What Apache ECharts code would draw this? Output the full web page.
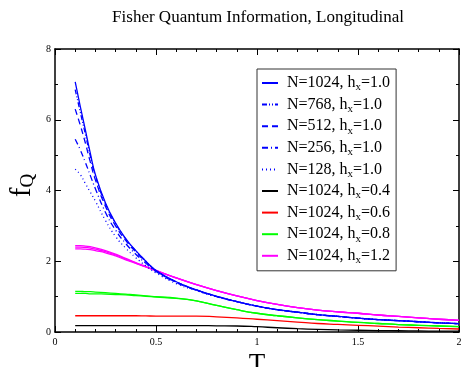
<!DOCTYPE html>
<html>
<head>
<meta charset="utf-8">
<script src="https://cdn.jsdelivr.net/npm/echarts@6/dist/echarts.min.js"></script>
<style>
  html, body { margin: 0; padding: 0; background: #fff; }
  #chart { width: 461px; height: 367px; }
</style>
</head>
<body>
<div id="chart"></div>
<script>
// Temperature grid shared by every curve
const temperature = [0.1, 0.125, 0.15, 0.175, 0.2, 0.25, 0.3, 0.35, 0.4, 0.45, 0.5, 0.6, 0.7, 0.8, 0.9, 1.0, 1.1, 1.2, 1.3, 1.4, 1.5, 1.6, 1.7, 1.8, 1.9, 2.0];

// Fisher information f_Q, h_x = 1.0, several chain lengths
const fq_N1024_h10 = [7.07, 6.38, 5.72, 5.05, 4.45, 3.65, 3.08, 2.64, 2.30, 2.00, 1.74, 1.42, 1.19, 1.01, 0.86, 0.73, 0.63, 0.56, 0.49, 0.44, 0.39, 0.35, 0.32, 0.29, 0.26, 0.235];
const fq_N768_h10  = [6.85, 6.22, 5.60, 4.97, 4.40, 3.62, 3.06, 2.63, 2.29, 2.00, 1.74, 1.42, 1.19, 1.01, 0.86, 0.73, 0.63, 0.56, 0.49, 0.44, 0.39, 0.35, 0.32, 0.29, 0.26, 0.235];
const fq_N512_h10  = [6.30, 5.85, 5.35, 4.80, 4.30, 3.55, 3.00, 2.59, 2.26, 1.98, 1.73, 1.41, 1.19, 1.01, 0.86, 0.73, 0.63, 0.56, 0.49, 0.44, 0.39, 0.35, 0.32, 0.29, 0.26, 0.235];
const fq_N256_h10  = [5.45, 5.15, 4.80, 4.42, 4.05, 3.38, 2.88, 2.50, 2.20, 1.94, 1.71, 1.40, 1.18, 1.00, 0.86, 0.73, 0.63, 0.56, 0.49, 0.44, 0.39, 0.35, 0.32, 0.29, 0.26, 0.235];
const fq_N128_h10  = [4.60, 4.45, 4.20, 3.95, 3.70, 3.15, 2.70, 2.37, 2.10, 1.87, 1.67, 1.37, 1.17, 1.00, 0.86, 0.73, 0.63, 0.56, 0.49, 0.44, 0.39, 0.35, 0.32, 0.29, 0.26, 0.235];

// N = 1024 at other transverse fields
const fq_N1024_h04 = [0.18, 0.18, 0.18, 0.18, 0.18, 0.18, 0.18, 0.18, 0.18, 0.18, 0.18, 0.18, 0.18, 0.175, 0.17, 0.15, 0.12, 0.095, 0.075, 0.06, 0.05, 0.04, 0.035, 0.03, 0.025, 0.022];
const fq_N1024_h06 = [0.46, 0.46, 0.46, 0.46, 0.46, 0.46, 0.46, 0.46, 0.46, 0.455, 0.45, 0.45, 0.45, 0.43, 0.40, 0.36, 0.32, 0.28, 0.24, 0.215, 0.19, 0.165, 0.14, 0.12, 0.10, 0.085];
const fq_N1024_h08 = [1.15, 1.15, 1.14, 1.14, 1.13, 1.11, 1.09, 1.07, 1.05, 1.02, 1.00, 0.96, 0.88, 0.75, 0.63, 0.53, 0.46, 0.40, 0.35, 0.31, 0.27, 0.24, 0.21, 0.19, 0.17, 0.15];
const fq_N1024_h12 = [2.44, 2.44, 2.43, 2.41, 2.38, 2.30, 2.20, 2.08, 1.96, 1.85, 1.74, 1.53, 1.34, 1.17, 1.02, 0.89, 0.78, 0.69, 0.62, 0.57, 0.53, 0.48, 0.44, 0.40, 0.36, 0.33];

// Smaller chains at h_x = 0.8 and 1.2 (drawn in the same colour, no legend entry)
const fq_small_h08   = [1.09, 1.09, 1.09, 1.08, 1.08, 1.07, 1.06, 1.05, 1.03, 1.01, 0.99, 0.95, 0.88, 0.75, 0.63, 0.53, 0.46, 0.40, 0.35, 0.31, 0.27, 0.24, 0.21, 0.19, 0.17, 0.15];
const fq_small_h12_a = [2.40, 2.40, 2.39, 2.37, 2.34, 2.27, 2.18, 2.06, 1.95, 1.84, 1.74, 1.53, 1.34, 1.17, 1.02, 0.89, 0.78, 0.69, 0.62, 0.57, 0.53, 0.48, 0.44, 0.40, 0.36, 0.33];
const fq_small_h12_b = [2.35, 2.35, 2.34, 2.33, 2.30, 2.24, 2.15, 2.04, 1.94, 1.84, 1.73, 1.53, 1.34, 1.17, 1.02, 0.89, 0.78, 0.69, 0.62, 0.57, 0.53, 0.48, 0.44, 0.40, 0.36, 0.33];

// Axis ticks
const xTicks = [0, 0.5, 1, 1.5, 2];
const yTicks = [0, 2, 4, 6, 8];

// Legend entries: [chain length, field]
const legendEntries = [
  ['1024', '1.0'], ['768', '1.0'], ['512', '1.0'], ['256', '1.0'], ['128', '1.0'],
  ['1024', '0.4'], ['1024', '0.6'], ['1024', '0.8'], ['1024', '1.2']
];

const FONT = 'Liberation Serif';
const pair = (ys) => temperature.map((t, i) => [t, ys[i]]);
const keyOf = (e) => 'N=' + e[0] + ', h_x=' + e[1];

function curve(name, ys, color, dash) {
  return {
    name: name,
    type: 'line',
    data: pair(ys),
    smooth: true,
    symbol: 'none',
    showSymbol: false,
    silent: true,
    lineStyle: { color: color, width: 1.3, type: dash || 'solid' },
    itemStyle: { color: color }
  };
}

const series = [
  curve(keyOf(legendEntries[8]), fq_N1024_h12, '#ff00ff'),
  curve('h12a', fq_small_h12_a, '#ff00ff'),
  curve('h12b', fq_small_h12_b, '#ff00ff'),
  curve(keyOf(legendEntries[7]), fq_N1024_h08, '#00ff00'),
  curve('h08a', fq_small_h08, '#00ff00'),
  curve(keyOf(legendEntries[6]), fq_N1024_h06, '#ff0000'),
  curve(keyOf(legendEntries[5]), fq_N1024_h04, '#000000'),
  curve(keyOf(legendEntries[4]), fq_N128_h10, '#0000ff', [1, 3]),
  curve(keyOf(legendEntries[3]), fq_N256_h10, '#0000ff', [6, 3, 1, 3]),
  curve(keyOf(legendEntries[2]), fq_N512_h10, '#0000ff', [6, 4]),
  curve(keyOf(legendEntries[1]), fq_N768_h10, '#0000ff', [5, 2, 1, 2, 1, 2]),
  curve(keyOf(legendEntries[0]), fq_N1024_h10, '#0000ff')
];

const tickLine = { color: '#000', width: 1 };
function xAxis(pos, labels) {
  return {
    type: 'value', position: pos, min: xTicks[0], max: xTicks[xTicks.length - 1],
    interval: xTicks[1] - xTicks[0],
    axisLine: { show: true, onZero: false, lineStyle: { color: '#000', width: 1.5 } },
    axisTick: { show: true, inside: true, length: 6, lineStyle: tickLine },
    minorTick: { show: true, splitNumber: 5, length: 3, lineStyle: tickLine },
    splitLine: { show: false },
    axisLabel: { show: labels, fontFamily: FONT, fontSize: 10, lineHeight: 10, color: '#000', margin: 5 },
    name: labels ? 'T' : '', nameLocation: 'middle', nameGap: 4,
    nameTextStyle: { fontFamily: FONT, fontSize: 27, lineHeight: 14, color: '#000' }
  };
}
function yAxis(pos, labels) {
  return {
    type: 'value', position: pos, min: yTicks[0], max: yTicks[yTicks.length - 1],
    interval: yTicks[1] - yTicks[0],
    axisLine: { show: true, onZero: false, lineStyle: { color: '#000', width: 1.5 } },
    axisTick: { show: true, inside: true, length: 6, lineStyle: tickLine },
    minorTick: { show: true, splitNumber: 2, length: 3, lineStyle: tickLine },
    splitLine: { show: false },
    axisLabel: { show: labels, fontFamily: FONT, fontSize: 10, color: '#000', margin: 4 },
    name: labels ? '{f|f}{q|Q}' : '', nameLocation: 'middle', nameGap: 17, nameRotate: 90,
    nameMoveOverlap: false,
    nameTextStyle: {
      fontFamily: FONT, color: '#000', padding: [0, 0, 0, 10],
      rich: {
        f: { fontFamily: FONT, fontSize: 29, color: '#000' },
        q: { fontFamily: FONT, fontSize: 19, color: '#000', padding: [13, 0, 0, 0] }
      }
    }
  };
}

const chart = echarts.init(document.getElementById('chart'), null, { renderer: 'canvas' });
chart.setOption({
  animation: false,
  backgroundColor: '#fff',
  title: {
    text: 'Fisher Quantum Information, Longitudinal',
    left: 253, top: 4, textAlign: 'center',
    textStyle: { fontFamily: FONT, fontSize: 17, fontWeight: 'normal', color: '#000' }
  },
  grid: { left: 55, right: 2, top: 49, bottom: 35, outerBoundsMode: 'none' },
  xAxis: [xAxis('bottom', true), xAxis('top', false)],
  yAxis: [yAxis('left', true), yAxis('right', false)],
  legend: {
    orient: 'vertical', left: 257, top: 69,
    padding: [6, 6, 5, 4], itemGap: 3.6, itemWidth: 16, itemHeight: 14,
    borderColor: '#333', borderWidth: 1, backgroundColor: '#fff',
    selectedMode: false,
    itemStyle: { opacity: 0 },
    data: legendEntries.map(keyOf),
    formatter: (name) => {
      const e = legendEntries.find((x) => keyOf(x) === name);
      return '{n|N=' + e[0] + ', h}{s|x}{n|=' + e[1] + '}';
    },
    textStyle: {
      fontFamily: FONT, fontSize: 16, color: '#000', padding: [0, 0, 0, 4],
      rich: {
        n: { fontFamily: FONT, fontSize: 16, color: '#000' },
        s: { fontFamily: FONT, fontSize: 11, color: '#000', padding: [9, 0, 0, 0] }
      }
    }
  },
  series: series
});
</script>
</body>
</html>
